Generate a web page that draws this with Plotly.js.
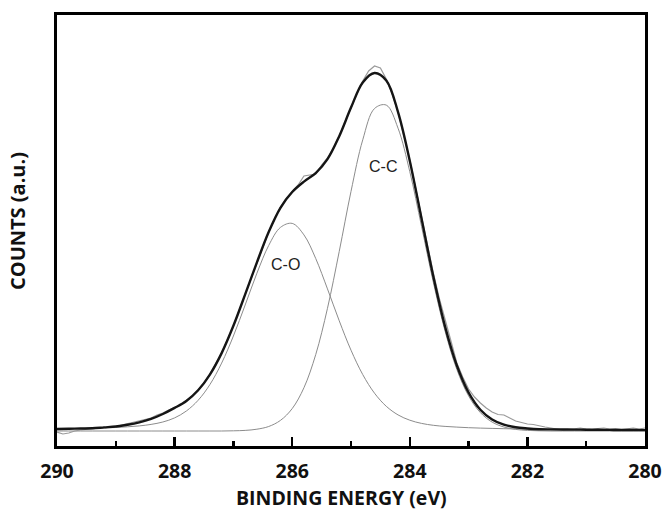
<!DOCTYPE html>
<html>
<head>
<meta charset="utf-8">
<script src="https://cdn.plot.ly/plotly-3.0.1.min.js"></script>
<style>html,body{margin:0;padding:0;background:#fff}#chart{width:669px;height:511px}</style>
</head>
<body>
<div id="chart"></div>
<script>
// Binding energy grid for fitted curves (eV)
const fitEnergy = [290.0,289.8,289.6,289.4,289.2,289.0,288.8,288.6,288.4,288.2,288.0,287.8,287.6,287.4,287.2,287.0,286.8,286.6,286.4,286.2,286.0,285.8,285.6,285.4,285.2,285.0,284.8,284.6,284.4,284.2,284.0,283.8,283.6,283.4,283.2,283.0,282.8,282.6,282.4,282.2,282.0,281.8,281.6,281.4,281.2,281.0,280.8,280.6,280.4,280.2,280.0];
// C-O component
const coCounts = [2.0,2.2,2.5,2.7,3.1,3.5,4.2,5.1,6.6,9.0,13.1,20.0,30.7,46.4,67.9,95.0,126.0,157.8,185.5,203.6,207.6,196.1,172.5,142.1,110.2,80.8,56.4,37.8,24.7,16.1,10.8,7.6,5.7,4.6,3.9,3.3,2.9,2.6,2.3,2.1,1.9,1.75,1.6,1.5,1.4,1.3,1.2,1.1,1.0,1.0,0.9];
// C-C component
const ccCounts = [0,0,0,0,0,0,0,0,0,0,0,0,0,0,0,0.2,0.6,1.8,4.5,10.6,22.4,43.3,76.4,122.7,179.6,239.6,291.2,322.5,325.9,302.8,259.3,204.6,148.8,99.8,61.6,35.1,18.4,8.9,4.0,1.6,0.6,0.2,0,0,0,0,0,0,0,0,0];
// Fitted envelope
const envCounts = [2.0,2.2,2.5,2.7,3.6,4.5,6.2,8.6,12.1,17,23.1,30,40.7,56.4,77.9,105.2,136.6,168.6,199,223.2,239,249.4,257.9,271.8,294.8,323.4,348.6,358,350.6,318.9,270.1,212.2,154.5,104.4,65.5,38.4,21.3,11.5,6.3,3.7,2.5,1.75,1.6,1.5,1.4,1.3,1.2,1.1,1.0,1.0,0.9];
// Measured spectrum
const rawEnergy = [290.0,289.9,289.8,289.7,289.6,289.5,289.4,289.3,289.2,289.1,289.0,288.9,288.8,288.7,288.6,288.5,288.4,288.3,288.2,288.1,288.0,287.9,287.8,287.7,287.6,287.5,287.4,287.3,287.2,287.1,287.0,286.9,286.8,286.7,286.6,286.5,286.4,286.3,286.2,286.1,286.0,285.9,285.8,285.7,285.6,285.5,285.4,285.3,285.2,285.1,285.0,284.9,284.8,284.7,284.6,284.5,284.4,284.3,284.2,284.1,284.0,283.9,283.8,283.7,283.6,283.5,283.4,283.3,283.2,283.1,283.0,282.9,282.8,282.7,282.6,282.5,282.4,282.3,282.2,282.1,282.0,281.9,281.8,281.7,281.6,281.5,281.4,281.3,281.2,281.1,281.0,280.9,280.8,280.7,280.6,280.5,280.4,280.3,280.2,280.1,280.0];
const rawCounts = [-1,-3,-2,0,1,1.5,2,2.5,3,4,4.5,6,7.5,9,10,11.5,13,16,18,21,23.5,26,30.5,35,41,48,57,67,78,91.5,105,121,137,153,169,184.5,199,212,224,233,240,246,255,256,257,266,273,283,295,309,323.5,337,350,360,365,363,352,337,319,296,271,243,214,186,158,133,110,90,68,54,42,34,28,23,19,16.5,16,13,10,8.5,7,6.5,5,4,3,2,1,1.5,2.5,3,2,1.5,2.5,3,2,2.5,1.5,2.5,3,2,3];
// Axis ticks
const tickVals = [290,288,286,284,282,280];
const tickText = ['290','288','286','284','282','280'];
// Axis titles
const xTitle = 'BINDING ENERGY (eV)';
const yTitle = 'COUNTS (a.u.)';
// Peak labels
const labelText = ['C-O','C-C'];
const labelEnergy = [286.11,284.46];
const labelCounts = [167,265];

const traces = [
  {x: fitEnergy, y: coCounts, mode:'lines', line:{color:'#8c8c8c', width:1, shape:'spline'}, hoverinfo:'skip'},
  {x: fitEnergy, y: ccCounts, mode:'lines', line:{color:'#8c8c8c', width:1, shape:'spline'}, hoverinfo:'skip'},
  {x: rawEnergy, y: rawCounts, mode:'lines', line:{color:'#9a9a9a', width:1.2}, hoverinfo:'skip'},
  {x: fitEnergy, y: envCounts, mode:'lines', line:{color:'#151515', width:2.4, shape:'spline'}, hoverinfo:'skip'}
];

const titleFont = {family:'Open Sans, sans-serif', size:20, color:'#111', weight:700};
const annotations = labelText.map((t,i)=>({x:labelEnergy[i], y:labelCounts[i], text:t, showarrow:false,
    font:{family:'Liberation Sans, Arial, sans-serif', size:16, color:'#222'}}));
annotations.push({xref:'paper', yref:'paper', x:0.483, y:-0.12, xanchor:'center', yanchor:'middle',
    text:xTitle, showarrow:false, font:{family:'Open Sans, sans-serif', size:19.5, color:'#111', weight:700}});
annotations.push({xref:'paper', yref:'paper', x:-0.068, y:0.522, xanchor:'center', yanchor:'middle',
    text:yTitle, textangle:-90, showarrow:false, font:titleFont});

const layout = {
  width: 669, height: 511,
  margin: {l:57, r:24, t:15, b:65},
  paper_bgcolor:'#fff', plot_bgcolor:'#fff',
  showlegend:false,
  xaxis: {
    range:[290,280], showgrid:false, zeroline:false, automargin:false,
    showline:true, mirror:true, linecolor:'#000', linewidth:3,
    tickmode:'array', tickvals:tickVals, ticktext:tickText,
    ticks:'inside', ticklen:9, tickwidth:2.5, tickcolor:'#000',
    minor:{dtick:1, ticks:'inside', ticklen:5, tickwidth:2.5, tickcolor:'#000', showgrid:false},
    ticklabelstandoff: 6,
    tickfont:{family:'Open Sans, sans-serif', size:19.5, color:'#111', weight:700}
  },
  yaxis: {
    range:[-15,416], showgrid:false, zeroline:false, automargin:false,
    showline:true, mirror:true, linecolor:'#000', linewidth:3,
    ticks:'', showticklabels:false
  },
  annotations: annotations
};
Plotly.newPlot('chart', traces, layout, {staticPlot:true, displayModeBar:false});
</script>
</body>
</html>
